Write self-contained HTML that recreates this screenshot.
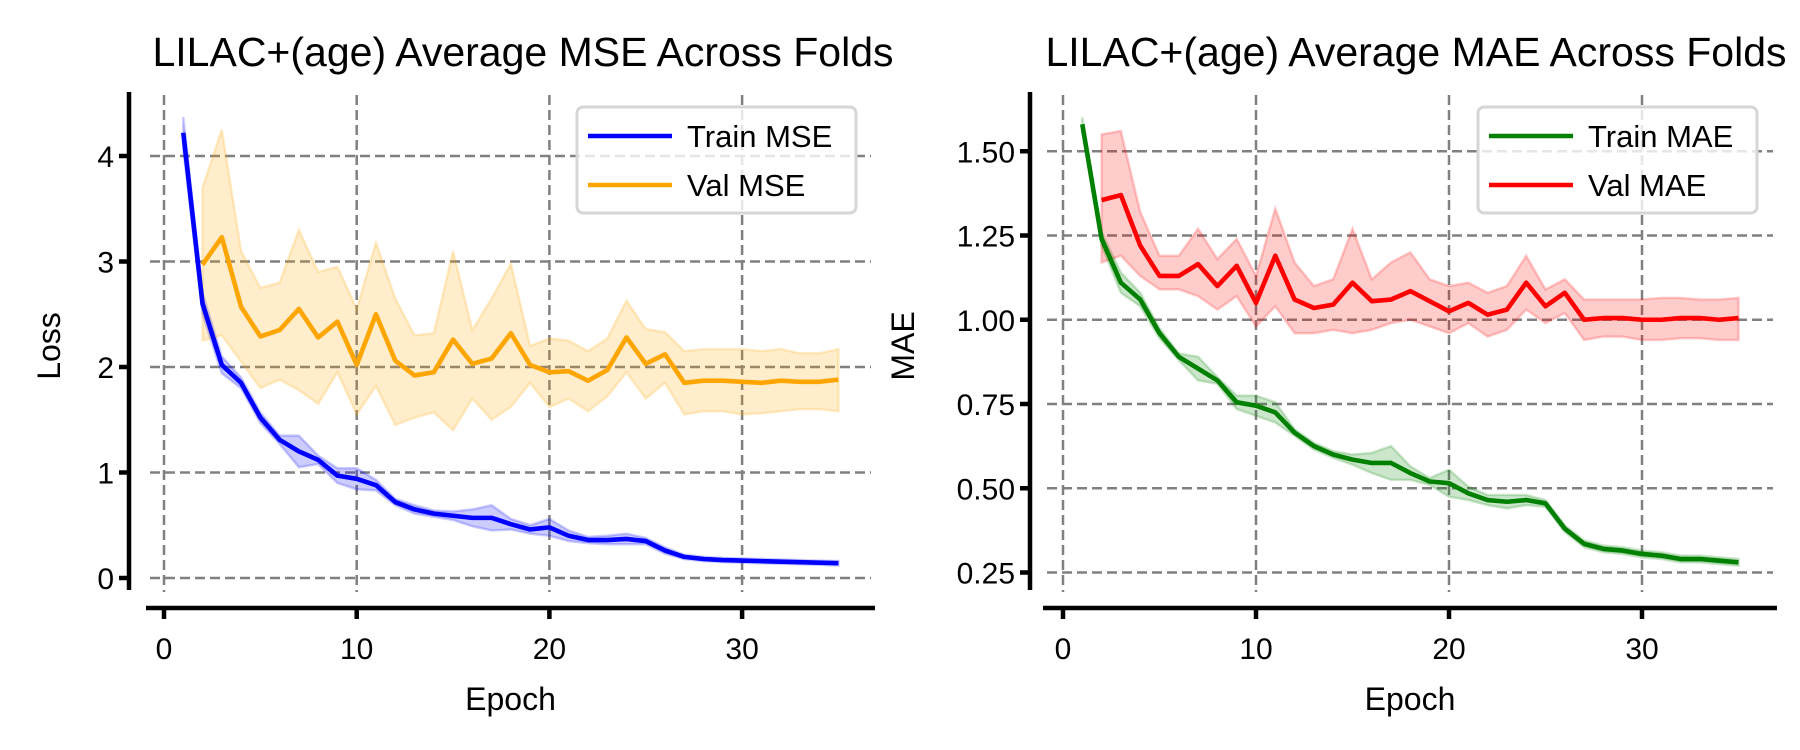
<!DOCTYPE html>
<html><head><meta charset="utf-8"><style>
body{margin:0;background:#fff;}
svg{display:block;font-family:"Liberation Sans",sans-serif;}
</style></head><body>
<svg id="chart" width="1800" height="750" viewBox="0 0 1800 750"></svg>
<script>
const epochs = [1,2,3,4,5,6,7,8,9,10,11,12,13,14,15,16,17,18,19,20,21,22,23,24,25,26,27,28,29,30,31,32,33,34,35];
const valEpochs = epochs.slice(1);
const trainMse = [4.22,2.6,2.02,1.85,1.52,1.31,1.2,1.12,0.97,0.94,0.88,0.72,0.65,0.61,0.59,0.57,0.57,0.51,0.46,0.48,0.4,0.36,0.36,0.37,0.35,0.26,0.2,0.18,0.17,0.165,0.16,0.155,0.15,0.145,0.14];
const trainMseStd = [0.15,0.1,0.08,0.05,0.05,0.04,0.15,0.04,0.07,0.1,0.05,0.03,0.04,0.03,0.04,0.08,0.12,0.05,0.04,0.08,0.05,0.03,0.04,0.05,0.03,0.03,0.02,0.02,0.02,0.02,0.02,0.02,0.02,0.02,0.02];
const valMse = [2.97,3.23,2.57,2.29,2.35,2.55,2.28,2.43,2.02,2.5,2.06,1.92,1.95,2.26,2.03,2.08,2.32,2.02,1.95,1.96,1.87,1.97,2.28,2.03,2.12,1.85,1.87,1.87,1.86,1.85,1.87,1.86,1.86,1.88];
const valMseUpper = [3.7,4.25,3.1,2.75,2.8,3.3,2.9,2.95,2.55,3.18,2.65,2.3,2.32,3.1,2.35,2.65,2.98,2.2,2.27,2.25,2.15,2.27,2.63,2.36,2.33,2.15,2.17,2.17,2.17,2.15,2.17,2.13,2.13,2.17];
const valMseLower = [2.25,2.3,2.05,1.8,1.88,1.78,1.65,1.95,1.55,1.82,1.45,1.52,1.57,1.4,1.7,1.5,1.62,1.85,1.62,1.7,1.58,1.72,1.95,1.7,1.85,1.55,1.58,1.58,1.55,1.56,1.58,1.6,1.6,1.58];
const trainMae = [1.58,1.24,1.11,1.06,0.96,0.89,0.855,0.82,0.755,0.745,0.725,0.665,0.625,0.6,0.585,0.575,0.575,0.545,0.52,0.515,0.485,0.465,0.46,0.465,0.455,0.38,0.335,0.32,0.315,0.305,0.3,0.29,0.29,0.285,0.28];
const trainMaeStd = [0.02,0.02,0.03,0.02,0.015,0.01,0.035,0.01,0.02,0.03,0.03,0.01,0.01,0.01,0.015,0.03,0.05,0.02,0.01,0.04,0.02,0.015,0.02,0.015,0.01,0.01,0.01,0.01,0.01,0.01,0.01,0.01,0.01,0.01,0.01];
const valMae = [1.355,1.37,1.22,1.13,1.13,1.165,1.1,1.16,1.05,1.19,1.06,1.035,1.045,1.11,1.055,1.06,1.085,1.055,1.025,1.05,1.015,1.03,1.11,1.04,1.08,1.0,1.005,1.005,1.0,1.0,1.005,1.005,1.0,1.005];
const valMaeUpper = [1.55,1.56,1.32,1.19,1.19,1.27,1.18,1.24,1.13,1.33,1.17,1.1,1.12,1.27,1.12,1.17,1.2,1.12,1.1,1.11,1.08,1.1,1.19,1.09,1.12,1.06,1.06,1.06,1.06,1.065,1.065,1.06,1.06,1.065];
const valMaeLower = [1.17,1.19,1.13,1.09,1.09,1.07,1.03,1.07,0.98,1.04,0.96,0.96,0.97,0.96,0.97,0.99,1.0,0.98,0.96,0.99,0.95,0.97,1.03,0.99,1.02,0.94,0.95,0.95,0.94,0.94,0.945,0.945,0.94,0.94];
const xTicks = [0,10,20,30];
const mseTicks = [0,1,2,3,4];
const maeTicks = [0.25,0.5,0.75,1.0,1.25,1.5];
const maeTickLabels = ["0.25","0.50","0.75","1.00","1.25","1.50"];

const NS = "http://www.w3.org/2000/svg";
const svg = document.getElementById('chart');
function mk(tag, attrs, parent){
  const e = document.createElementNS(NS, tag);
  for (const k in attrs) e.setAttribute(k, attrs[k]);
  (parent||svg).appendChild(e);
  return e;
}
function drawPanel(cfg){
  const g = mk('g', {});
  
  
  const X = v => cfg.x0 + v*cfg.xs;
  const Y = v => cfg.yZeroPx - (v - cfg.yZero)*cfg.ys;
  cfg.yTicks.forEach(t=>{
    const l = mk('line',{x1:cfg.gx1,x2:cfg.gx2,y1:Y(t),y2:Y(t),stroke:'#808080','stroke-width':2.5,'stroke-dasharray':'10,5'},g);
    
    
  });
  xTicks.forEach(t=>{
    const l = mk('line',{x1:X(t),x2:X(t),y1:95,y2:592,stroke:'#808080','stroke-width':2.5,'stroke-dasharray':'10,5'},g);
    
    
  });
  cfg.series.forEach(s=>{
    const up = s.x.map((e,i)=>[X(e),Y(s.upper[i])]);
    const lo = s.x.map((e,i)=>[X(e),Y(s.lower[i])]).reverse();
    const pts = up.concat(lo).map(p=>p.join(',')).join(' ');
    const band = mk('polygon',{points:pts,fill:s.color,'fill-opacity':0.2,stroke:s.color,'stroke-opacity':0.2,'stroke-width':2.5},g);
    
    
  });
  cfg.series.forEach(s=>{
    const pts = s.x.map((e,i)=>X(e)+','+Y(s.y[i])).join(' ');
    const pl = mk('polyline',{points:pts,fill:'none',stroke:s.color,'stroke-width':4.6,'stroke-linejoin':'round'},g);
    
    
  });
  const ys = mk('line',{x1:cfg.spineX,x2:cfg.spineX,y1:92,y2:590,stroke:'#000','stroke-width':4.5},g);
  
  
  const xs = mk('line',{x1:cfg.gx1-4,x2:cfg.gx2+4,y1:608,y2:608,stroke:'#000','stroke-width':4.5},g);
  
  
  cfg.yTicks.forEach((t,i)=>{
    mk('line',{x1:cfg.spineX-10,x2:cfg.spineX,y1:Y(t),y2:Y(t),stroke:'#000','stroke-width':4.5},g);
    const tx = mk('text',{x:cfg.spineX-15,y:Y(t)+11,'text-anchor':'end','font-size':30},g);
    tx.textContent = cfg.yLabels[i];
    
    
  });
  xTicks.forEach(t=>{
    mk('line',{x1:X(t),x2:X(t),y1:608,y2:619,stroke:'#000','stroke-width':4.5},g);
    const tx = mk('text',{x:X(t),y:659,'text-anchor':'middle','font-size':30},g);
    tx.textContent = t;
    
    
  });
  const xl = mk('text',{x:(cfg.gx1+cfg.gx2)/2,y:710,'text-anchor':'middle','font-size':32},g);
  xl.textContent = 'Epoch';
  
  
  const yl = mk('text',{x:cfg.ylabX,y:346,'text-anchor':'middle','font-size':32,transform:'rotate(-90 '+cfg.ylabX+' 346)'},g);
  yl.textContent = cfg.ylab;
  
  
  const ti = mk('text',{x:cfg.titleX,y:66,'text-anchor':'middle','font-size':41},g);
  ti.textContent = cfg.title;
  
  
  const lg = mk('g',{},g);
  
  
  mk('rect',{x:cfg.legX,y:107,width:279,height:106,rx:6,fill:'#fff','fill-opacity':0.8,stroke:'#d6d6d6','stroke-width':3},lg);
  cfg.series.forEach((s,i)=>{
    const yy = 136 + i*49;
    mk('line',{x1:cfg.legX+11,x2:cfg.legX+95,y1:yy,y2:yy,stroke:s.color,'stroke-width':4.6},lg);
    const t = mk('text',{x:cfg.legX+110,y:yy+11,'font-size':31},lg);
    t.textContent = s.label;
    
    
  });
}
drawPanel({name:'mse-panel',x0:164,xs:19.27,yZero:0,yZeroPx:578,ys:105.5,gx1:150,gx2:871,spineX:129,
  yTicks:mseTicks,yLabels:mseTicks.map(String),ylab:'Loss',ylabX:60,titleX:523,legX:577,
  title:'LILAC+(age) Average MSE Across Folds',
  series:[
    {key:'train-mse',label:'Train MSE',color:'#0000ff',x:epochs,y:trainMse,upper:trainMse.map((v,i)=>v+trainMseStd[i]),lower:trainMse.map((v,i)=>v-trainMseStd[i])},
    {key:'val-mse',label:'Val MSE',color:'#ffa500',x:valEpochs,y:valMse,upper:valMseUpper,lower:valMseLower}
  ]});
drawPanel({name:'mae-panel',x0:1063,xs:19.3,yZero:0.25,yZeroPx:572.5,ys:337,gx1:1047,gx2:1773,spineX:1030,
  yTicks:maeTicks,yLabels:maeTickLabels,ylab:'MAE',ylabX:914,titleX:1416,legX:1478,
  title:'LILAC+(age) Average MAE Across Folds',
  series:[
    {key:'train-mae',label:'Train MAE',color:'#008000',x:epochs,y:trainMae,upper:trainMae.map((v,i)=>v+trainMaeStd[i]),lower:trainMae.map((v,i)=>v-trainMaeStd[i])},
    {key:'val-mae',label:'Val MAE',color:'#ff0000',x:valEpochs,y:valMae,upper:valMaeUpper,lower:valMaeLower}
  ]});
</script>
</body></html>
